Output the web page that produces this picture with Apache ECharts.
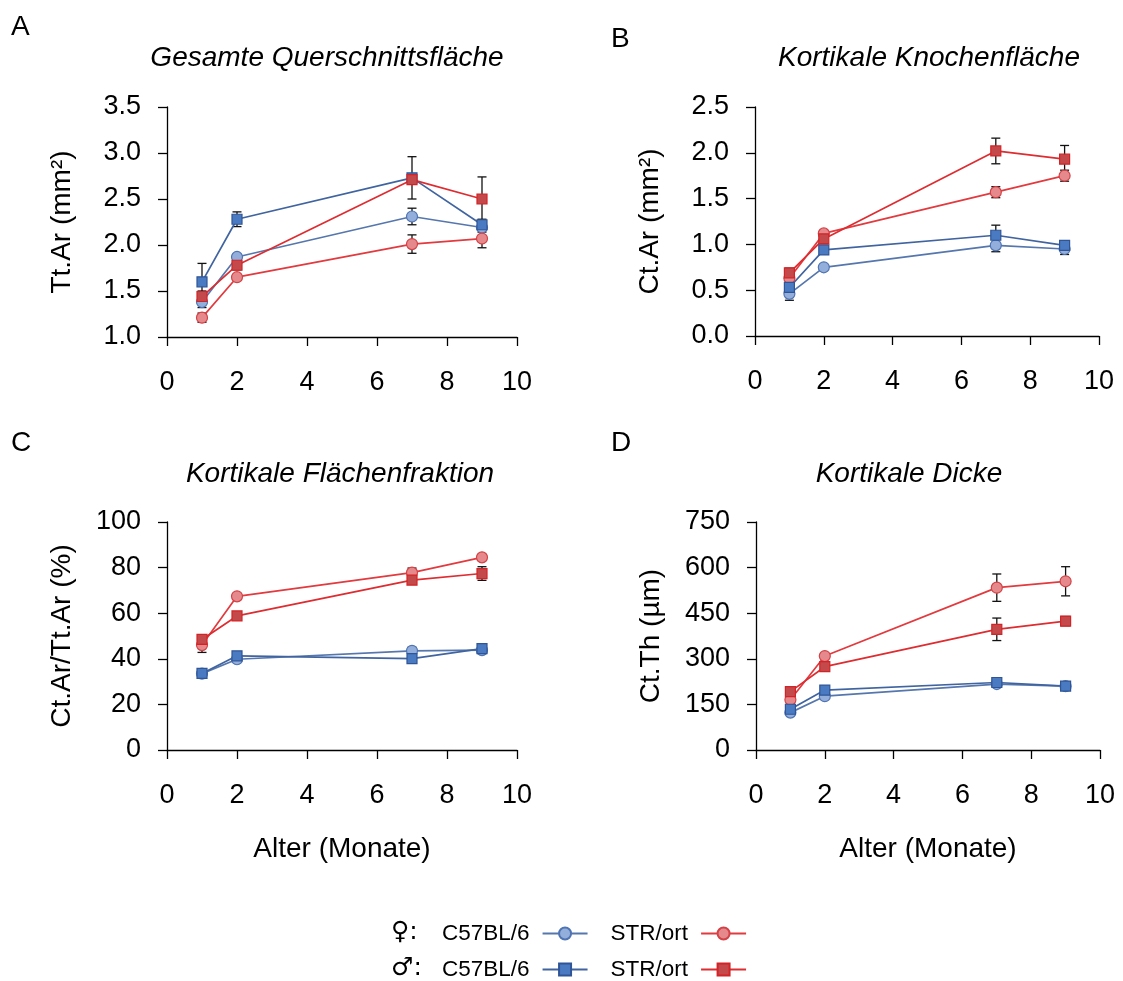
<!DOCTYPE html>
<html>
<head>
<meta charset="utf-8">
<script src="https://cdn.jsdelivr.net/npm/echarts@6/dist/echarts.min.js"></script>
<style>html,body{margin:0;padding:0;background:#fff;}#c{width:1123px;height:981px;}</style>
</head>
<body>
<div id="c"></div>
<script>
// ---- data ----
const ages = [1, 2, 7, 9];

// Panel A: Tt.Ar (mm²)
const A_fC57 = [1.38, 1.87, 2.31, 2.19];
const A_fC57_err = [0.06, 0.03, 0.09, 0.05];
const A_mC57 = [1.60, 2.28, 2.73, 2.22];
const A_mC57_err = [0.20, 0.08, 0.23, 0.06];
const A_fSTR = [1.21, 1.65, 2.01, 2.07];
const A_fSTR_err = [0.05, 0.03, 0.10, 0.10];
const A_mSTR = [1.44, 1.78, 2.71, 2.50];
const A_mSTR_err = [0.06, 0.05, 0.05, 0.24];

// Panel B: Ct.Ar (mm²)
const B_fC57 = [0.46, 0.75, 0.99, 0.95];
const B_fC57_err = [0.07, 0.02, 0.07, 0.06];
const B_mC57 = [0.53, 0.94, 1.10, 0.99];
const B_mC57_err = [0.04, 0.03, 0.11, 0.04];
const B_fSTR = [0.63, 1.12, 1.57, 1.75];
const B_fSTR_err = [0.03, 0.03, 0.06, 0.06];
const B_mSTR = [0.69, 1.06, 2.02, 1.93];
const B_mSTR_err = [0.05, 0.05, 0.14, 0.15];

// Panel C: Ct.Ar/Tt.Ar (%)
const C_fC57 = [33.5, 39.8, 43.5, 43.8];
const C_fC57_err = [1.0, 1.0, 1.5, 1.0];
const C_mC57 = [33.6, 41.3, 40.1, 44.5];
const C_mC57_err = [1.0, 1.0, 1.0, 1.0];
const C_fSTR = [46.0, 67.4, 77.8, 84.5];
const C_fSTR_err = [3.2, 1.0, 2.0, 1.0];
const C_mSTR = [48.5, 58.8, 74.5, 77.4];
const C_mSTR_err = [1.5, 1.0, 1.5, 3.0];

// Panel D: Ct.Th (µm)
const D_fC57 = [123, 177, 217, 210];
const D_fC57_err = [8, 5, 6, 5];
const D_mC57 = [134, 197, 222, 210];
const D_mC57_err = [8, 6, 6, 5];
const D_fSTR = [165, 309, 534, 555];
const D_fSTR_err = [10, 8, 45, 48];
const D_mSTR = [192, 274, 397, 424];
const D_mSTR_err = [8, 8, 37, 15];

const titles = ['Gesamte Querschnittsfläche', 'Kortikale Knochenfläche', 'Kortikale Flächenfraktion', 'Kortikale Dicke'];
const yNames = ['Tt.Ar (mm²)', 'Ct.Ar (mm²)', 'Ct.Ar/Tt.Ar (%)', 'Ct.Th (µm)'];
const panelLetters = ['A', 'B', 'C', 'D'];
const xName = 'Alter (Monate)';
const yRanges = [[1.0, 3.5, 0.5], [0.0, 2.5, 0.5], [0, 100, 20], [0, 750, 150]];
const yDecimals = [1, 1, 0, 0];
const legendLabels = { fC57: 'C57BL/6', fSTR: 'STR/ort', mC57: 'C57BL/6', mSTR: 'STR/ort' };

const panels = [
  { fC57: A_fC57, fC57e: A_fC57_err, mC57: A_mC57, mC57e: A_mC57_err, fSTR: A_fSTR, fSTRe: A_fSTR_err, mSTR: A_mSTR, mSTRe: A_mSTR_err },
  { fC57: B_fC57, fC57e: B_fC57_err, mC57: B_mC57, mC57e: B_mC57_err, fSTR: B_fSTR, fSTRe: B_fSTR_err, mSTR: B_mSTR, mSTRe: B_mSTR_err },
  { fC57: C_fC57, fC57e: C_fC57_err, mC57: C_mC57, mC57e: C_mC57_err, fSTR: C_fSTR, fSTRe: C_fSTR_err, mSTR: C_mSTR, mSTRe: C_mSTR_err },
  { fC57: D_fC57, fC57e: D_fC57_err, mC57: D_mC57, mC57e: D_mC57_err, fSTR: D_fSTR, fSTRe: D_fSTR_err, mSTR: D_mSTR, mSTRe: D_mSTR_err }
];

// ---- layout & styles ----
const FONT = '"Liberation Sans", Arial, sans-serif';
const grids = [
  { left: 167, top: 107, width: 350, height: 230 },
  { left: 755, top: 107, width: 344, height: 229 },
  { left: 167, top: 522, width: 350, height: 228 },
  { left: 756, top: 522, width: 344, height: 228 }
];
const titlePos = [[327, 58], [929, 58], [340, 474], [909, 474]];
const letterPos = [[11, 13], [611, 25], [11, 429], [611, 429]];

const styles = {
  fC57: { line: '#5577AD', fill: '#93AEDA', stroke: '#4F74B3', symbol: 'circle', size: 11 },
  mC57: { line: '#4064A0', fill: '#4A7BC2', stroke: '#2F5597', symbol: 'rect', size: 10 },
  fSTR: { line: '#E23A3E', fill: '#E6898C', stroke: '#D24246', symbol: 'circle', size: 11 },
  mSTR: { line: '#DE2C30', fill: '#C4494A', stroke: '#D42326', symbol: 'rect', size: 10 }
};
const order = ['fC57', 'fSTR', 'mC57', 'mSTR'];

const axisLine = { show: true, lineStyle: { color: '#000', width: 1.3 } };
const option = {
  animation: false,
  backgroundColor: '#fff',
  grid: grids.map(g => Object.assign({ containLabel: false }, g)),
  xAxis: grids.map((g, i) => ({
    gridIndex: i, type: 'value', min: 0, max: 10, interval: 2,
    name: i >= 2 ? xName : '', nameLocation: 'middle', nameGap: 85,
    nameTextStyle: { fontSize: 28, color: '#000', fontFamily: FONT },
    axisLine: axisLine,
    axisTick: { show: true, inside: false, length: 9, lineStyle: { color: '#000', width: 1.3 } },
    axisLabel: { fontSize: 27, color: '#000', fontFamily: FONT, margin: 32 },
    splitLine: { show: false }
  })),
  yAxis: grids.map((g, i) => ({
    gridIndex: i, type: 'value', min: yRanges[i][0], max: yRanges[i][1], interval: yRanges[i][2],
    name: yNames[i], nameLocation: 'middle', nameGap: 91, nameRotate: 90,
    nameTextStyle: { fontSize: 28, color: '#000', fontFamily: FONT },
    axisLine: axisLine,
    axisTick: { show: true, inside: false, length: 9, lineStyle: { color: '#000', width: 1.3 } },
    axisLabel: { fontSize: 27, color: '#000', fontFamily: FONT, margin: 26,
      formatter: v => v.toFixed(yDecimals[i]) },
    splitLine: { show: false }
  })),
  legend: [
    { left: 437, top: 917, data: ['fC57', 'fSTR'], align: 'right', orient: 'horizontal',
      itemWidth: 45, itemHeight: 15, itemGap: 22, formatter: n => legendLabels[n],
      textStyle: { fontSize: 22.5, color: '#000', fontFamily: FONT, padding: [0, 8, 0, 0] }, selectedMode: false },
    { left: 437, top: 953, data: ['mC57', 'mSTR'], align: 'right', orient: 'horizontal',
      itemWidth: 45, itemHeight: 15, itemGap: 22, formatter: n => legendLabels[n],
      textStyle: { fontSize: 22.5, color: '#000', fontFamily: FONT, padding: [0, 8, 0, 0] }, selectedMode: false }
  ],
  graphic: [],
  series: []
};

// titles, letters, sex symbols
titles.forEach((t, i) => {
  option.graphic.push({ type: 'text', x: titlePos[i][0], y: titlePos[i][1],
    style: { text: t, fontSize: 28, fontStyle: 'italic', fontFamily: FONT, fill: '#000', align: 'center', verticalAlign: 'middle' } });
  option.graphic.push({ type: 'text', x: letterPos[i][0], y: letterPos[i][1],
    style: { text: panelLetters[i], fontSize: 28, fontFamily: FONT, fill: '#000' } });
});
option.graphic.push({ type: 'text', x: 391, y: 932, style: { text: '♀:', fontSize: 25, fontFamily: '"DejaVu Sans", ' + FONT, fill: '#000', verticalAlign: 'middle' } });
option.graphic.push({ type: 'text', x: 391, y: 968, style: { text: '♂:', fontSize: 25, fontFamily: '"DejaVu Sans", ' + FONT, fill: '#000', verticalAlign: 'middle' } });

function errRender(params, api) {
  const x = api.value(0);
  const lo = api.coord([x, api.value(1)]);
  const hi = api.coord([x, api.value(2)]);
  const w = 4.5;
  const st = { stroke: '#111', lineWidth: 1.3 };
  return { type: 'group', children: [
    { type: 'line', shape: { x1: lo[0], y1: lo[1], x2: hi[0], y2: hi[1] }, style: st },
    { type: 'line', shape: { x1: lo[0] - w, y1: lo[1], x2: lo[0] + w, y2: lo[1] }, style: st },
    { type: 'line', shape: { x1: hi[0] - w, y1: hi[1], x2: hi[0] + w, y2: hi[1] }, style: st }
  ] };
}

panels.forEach((p, gi) => {
  order.forEach(k => {
    const vals = p[k], errs = p[k + 'e'];
    option.series.push({
      type: 'custom', xAxisIndex: gi, yAxisIndex: gi, z: 1, silent: true,
      renderItem: errRender, encode: { x: 0, y: [1, 2] },
      data: ages.map((a, j) => [a, vals[j] - errs[j], vals[j] + errs[j]])
    });
  });
  order.forEach(k => {
    const s = styles[k];
    option.series.push({
      name: k, type: 'line', xAxisIndex: gi, yAxisIndex: gi, z: 3,
      data: ages.map((a, j) => [a, p[k][j]]),
      symbol: s.symbol, symbolSize: s.size, showSymbol: true,
      lineStyle: { color: s.line, width: 1.7 },
      itemStyle: { color: s.fill, borderColor: s.stroke, borderWidth: 1.2 }
    });
  });
});

const chart = echarts.init(document.getElementById('c'), null, { renderer: 'canvas' });
chart.setOption(option);
</script>
</body>
</html>
